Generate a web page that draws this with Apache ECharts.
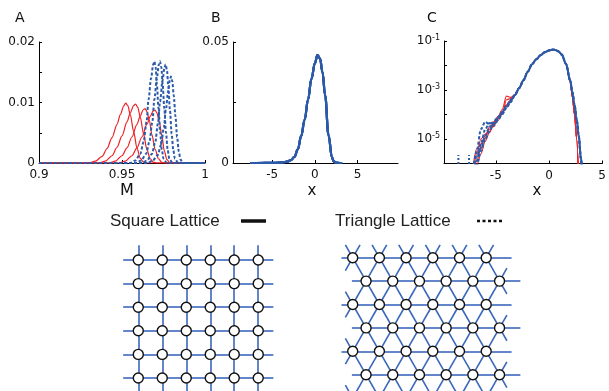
<!DOCTYPE html>
<html>
<head>
<meta charset="utf-8">
<script src="https://cdn.jsdelivr.net/npm/echarts@6.0.0/dist/echarts.min.js"></script>
<style>html,body{margin:0;padding:0;background:#fff}#c{width:609px;height:391px}</style>
</head>
<body>
<div id="c"></div>
<script>
// ---------- Panel A : distributions of M ----------
const A_RED_1 = [[0.9,0],[0.930,0],[0.934,0.0003],[0.938,0.0011],[0.941,0.0024],[0.944,0.0042],[0.947,0.0064],[0.949,0.0080],[0.951,0.0094],[0.9522,0.0099],[0.9535,0.0095],[0.955,0.0080],[0.957,0.0052],[0.959,0.0025],[0.961,0.0008],[0.963,0.0001],[0.965,0],[1,0]];
const A_RED_2 = [[0.9,0],[0.936,0],[0.940,0.0003],[0.944,0.0012],[0.947,0.0026],[0.950,0.0045],[0.953,0.0068],[0.955,0.0083],[0.957,0.0095],[0.9582,0.00975],[0.9595,0.0092],[0.961,0.0076],[0.963,0.0048],[0.965,0.0022],[0.967,0.0007],[0.969,0.0001],[0.971,0],[1,0]];
const A_RED_3 = [[0.9,0],[0.942,0],[0.946,0.0003],[0.950,0.0012],[0.953,0.0025],[0.956,0.0043],[0.959,0.0064],[0.961,0.0078],[0.9628,0.0088],[0.9639,0.0090],[0.965,0.0085],[0.9665,0.0070],[0.968,0.0047],[0.970,0.0022],[0.972,0.0007],[0.974,0.0001],[0.976,0],[1,0]];
const A_RED_4 = [[0.9,0],[0.948,0],[0.952,0.0003],[0.956,0.0012],[0.959,0.0025],[0.962,0.0043],[0.965,0.0064],[0.967,0.0077],[0.9688,0.0086],[0.9699,0.00876],[0.971,0.0083],[0.9725,0.0068],[0.974,0.0045],[0.9755,0.0020],[0.977,0.0006],[0.9785,0.0001],[0.980,0],[1,0]];
const A_BLUE_1 = [[0.9,0],[0.955,0],[0.958,0.0004],[0.961,0.0015],[0.963,0.0035],[0.9648,0.0068],[0.966,0.0105],[0.9675,0.0140],[0.9688,0.0163],[0.9695,0.0168],[0.9703,0.0158],[0.971,0.0130],[0.972,0.0090],[0.973,0.0050],[0.974,0.0022],[0.975,0.0007],[0.977,0],[1,0]];
const A_BLUE_2 = [[0.9,0],[0.9585,0],[0.9615,0.0004],[0.9645,0.0015],[0.9665,0.0035],[0.9683,0.0068],[0.9695,0.0105],[0.971,0.0140],[0.9722,0.0163],[0.9729,0.0168],[0.9737,0.0158],[0.9745,0.0130],[0.9755,0.0090],[0.9765,0.0050],[0.9775,0.0022],[0.9785,0.0007],[0.9805,0],[1,0]];
const A_BLUE_3 = [[0.9,0],[0.962,0],[0.965,0.0004],[0.968,0.0015],[0.970,0.0034],[0.9717,0.0066],[0.9729,0.0101],[0.9744,0.0136],[0.9756,0.0158],[0.9763,0.0163],[0.9771,0.0153],[0.9779,0.0126],[0.9789,0.0087],[0.9799,0.0048],[0.9809,0.0021],[0.9819,0.0007],[0.9839,0],[1,0]];
const A_BLUE_4 = [[0.9,0],[0.9655,0],[0.9685,0.0004],[0.9715,0.0013],[0.9735,0.0030],[0.9752,0.0058],[0.9764,0.0088],[0.9778,0.0119],[0.9789,0.0138],[0.9795,0.0143],[0.9803,0.0135],[0.9812,0.0111],[0.9822,0.0077],[0.9832,0.0043],[0.9842,0.0019],[0.9852,0.0006],[0.9865,0],[1,0]];

const A_X_TICKS = [0.9, 0.95, 1];
const A_X_LABELS = ['0.9', '0.95', '1'];
const A_Y_TICKS = [0, 0.005, 0.01, 0.015, 0.02];
const A_Y_LABEL_VALUES = [0, 0.01, 0.02];
const A_Y_LABELS = ['0', '0.01', '0.02'];

// ---------- Panels B and C : distributions of x ----------
const CX = [-7.6,-7.2,-6.8,-6.4,-6.0,-5.6,-5.2,-4.8,-4.4,-4.0,-3.6,-3.2,-2.8,-2.4,-2.0,-1.6,-1.2,-0.8,-0.4,0,0.3,0.6,0.9,1.2,1.6,2.0,2.2,2.4,2.6,2.8,3.0,3.2];
const C_RED_1 = [3.2e-8,4e-7,2.5e-6,1e-5,1.6e-5,2e-5,4.5e-5,8e-5,1.6e-4,5.6e-4,5e-4,6.3e-4,1.2e-3,2.5e-3,5.6e-3,1.12e-2,1.78e-2,2.62e-2,3.48e-2,4.12e-2,4.46e-2,4.32e-2,3.75e-2,2.8e-2,1.15e-2,2.2e-3,5e-4,1e-4,1e-5,1.3e-7,null,null];
const C_RED_2 = [1e-7,8e-7,4e-6,6.3e-6,1e-5,3.2e-5,3.2e-5,7e-5,1e-4,4e-4,4.5e-4,6.3e-4,1.2e-3,2.5e-3,5.6e-3,1.12e-2,1.78e-2,2.62e-2,3.48e-2,4.12e-2,4.46e-2,4.32e-2,3.75e-2,2.8e-2,1.15e-2,2.2e-3,5e-4,1e-4,1e-5,1.3e-7,null,null];
const C_RED_3 = [6.3e-8,2.5e-7,1.26e-6,4e-6,1.4e-5,2.5e-5,5e-5,5.6e-5,1.26e-4,2.5e-4,4e-4,6.3e-4,1.2e-3,2.5e-3,5.6e-3,1.12e-2,1.78e-2,2.62e-2,3.48e-2,4.12e-2,4.46e-2,4.32e-2,3.75e-2,2.8e-2,1.15e-2,2.2e-3,5e-4,1e-4,1e-5,1.3e-7,null,null];
const C_RED_4 = [3.2e-8,1.3e-7,8e-7,2.5e-6,8e-6,1.8e-5,4e-5,8e-5,1.1e-4,2.2e-4,3.5e-4,6.3e-4,1.2e-3,2.5e-3,5.6e-3,1.12e-2,1.78e-2,2.62e-2,3.48e-2,4.12e-2,4.46e-2,4.32e-2,3.75e-2,2.8e-2,1.15e-2,2.2e-3,5e-4,1e-4,1e-5,1.3e-7,null,null];
const C_BLUE_1 = [1e-7,6.3e-7,3.2e-6,2.5e-5,5e-5,4e-5,5e-5,8e-5,1.1e-4,1.8e-4,3.5e-4,6.3e-4,1.2e-3,2.5e-3,5.6e-3,1.12e-2,1.78e-2,2.62e-2,3.48e-2,4.12e-2,4.46e-2,4.32e-2,3.75e-2,2.8e-2,1.15e-2,2.4e-3,8e-4,2.5e-4,6e-5,1.3e-5,1.6e-6,1e-7];
const C_BLUE_2 = [5e-8,3.2e-7,1.26e-6,6.3e-6,2.5e-5,4.5e-5,3.5e-5,5.6e-5,1.26e-4,2e-4,3.2e-4,6.3e-4,1.2e-3,2.5e-3,5.6e-3,1.12e-2,1.78e-2,2.62e-2,3.48e-2,4.12e-2,4.46e-2,4.32e-2,3.75e-2,2.8e-2,1.15e-2,2.4e-3,8e-4,2.5e-4,6e-5,1.3e-5,1.6e-6,1e-7];
const C_BLUE_3 = [3.2e-8,1.6e-7,8e-7,3.2e-6,1e-5,2e-5,4.5e-5,6.3e-5,1e-4,2e-4,3.5e-4,6.3e-4,1.2e-3,2.5e-3,5.6e-3,1.12e-2,1.78e-2,2.62e-2,3.48e-2,4.12e-2,4.46e-2,4.32e-2,3.75e-2,2.8e-2,1.15e-2,2.4e-3,8e-4,2.5e-4,6e-5,1.3e-5,1.6e-6,1e-7];
const C_BLUE_4 = [6.3e-8,4e-7,2e-6,4.5e-6,1.26e-5,3.2e-5,4e-5,7e-5,1.26e-4,2.2e-4,4e-4,6.3e-4,1.2e-3,2.5e-3,5.6e-3,1.12e-2,1.78e-2,2.62e-2,3.48e-2,4.12e-2,4.46e-2,4.32e-2,3.75e-2,2.8e-2,1.15e-2,2.4e-3,8e-4,2.5e-4,6e-5,1.3e-5,1.6e-6,1e-7];
const C_SPIKE_X = [-8.52, -7.52];
const C_SPIKE_TOP = [2.2e-6, 2.2e-6];

const B_X_TICKS = [-5, 0, 5];
const B_X_LABELS = ['-5', '0', '5'];
const B_Y_TICKS = [0, 0.025, 0.05];
const B_Y_LABEL_VALUES = [0, 0.05];
const B_Y_LABELS = ['0', '0.05'];
const C_X_TICKS = [-5, 0, 5];
const C_X_LABELS = ['-5', '0', '5'];
const C_Y_LABEL_EXPONENTS = [-1, -3, -5];

// ---------- Lattices ----------
const SQUARE_COLS = 6, SQUARE_ROWS = 7;     // last row lies below the picture edge
const TRI_COLS = 6, TRI_ROWS = 7;

const RED = '#ec2226', BLUE = '#2b5aa9', LAT = '#3a67bb';
const FONT = 'DejaVu Sans';

function fmt(values, labels) {
  return v => { const i = values.findIndex(t => Math.abs(t - v) < 1e-9); return i >= 0 ? labels[i] : ''; };
}
function pairs(xs, ys) { return xs.map((x, i) => [x, ys[i]]); }

const axisBase = {
  axisLine: { onZero: false, lineStyle: { color: '#000', width: 1 } },
  splitLine: { show: false },
  axisTick: { inside: true, length: 3, lineStyle: { color: '#000' } },
  axisLabel: { color: '#111', fontFamily: FONT, fontSize: 12 }
};
function ax(extra) {
  const o = JSON.parse(JSON.stringify(axisBase));
  for (const k in extra) {
    if (typeof extra[k] === 'object' && !Array.isArray(extra[k]) && o[k]) Object.assign(o[k], extra[k]);
    else o[k] = extra[k];
  }
  return o;
}

// lattice geometry in lattice units (drawn through hidden value axes)
function squareLattice() {
  const nodes = [], edges = [];
  const has = (c, r) => c >= 0 && c < SQUARE_COLS && r >= 0 && r < SQUARE_ROWS;
  const dirs = [[1,0],[-1,0],[0,1],[0,-1]];
  const stub = 0.63;
  for (let r = 0; r < SQUARE_ROWS; r++) for (let c = 0; c < SQUARE_COLS; c++) {
    nodes.push([c, r]);
    for (const [dc, dr] of dirs) {
      if (has(c + dc, r + dr)) { if (dc > 0 || dr > 0) edges.push({ coords: [[c, r], [c + dc, r + dr]] }); }
      else edges.push({ coords: [[c, r], [c + dc * stub, r + dr * stub]] });
    }
  }
  return { nodes, edges };
}
function triLattice() {
  const nodes = [], edges = [];
  const px = (c, r) => c + (r % 2) * 0.5;
  const has = (x, r) => { if (r < 0 || r >= TRI_ROWS) return false; const c = x - (r % 2) * 0.5; return Math.abs(c - Math.round(c)) < 1e-6 && c >= -1e-6 && c <= TRI_COLS - 1 + 1e-6; };
  const dirs = [[1,0],[-1,0],[0.5,1],[-0.5,1],[0.5,-1],[-0.5,-1]];
  const stub = 0.55;
  for (let r = 0; r < TRI_ROWS; r++) for (let c = 0; c < TRI_COLS; c++) {
    const x = px(c, r);
    nodes.push([x, r]);
    for (const [dx, dr] of dirs) {
      // horizontal rows run a little further to the right than to the left
      const s = dr !== 0 ? stub : (dx > 0 ? (r % 2 ? 0.78 : 0.95) : (r % 2 ? 0.53 : 0.42));
      if (has(x + dx, r + dr)) { if (dr > 0 || (dr === 0 && dx > 0)) edges.push({ coords: [[x, r], [x + dx, r + dr]] }); }
      else edges.push({ coords: [[x, r], [x + dx * s, r + dr * s]] });
    }
  }
  return { nodes, edges };
}
const SQ = squareLattice(), TR = triLattice();

const redA = [A_RED_1, A_RED_2, A_RED_3, A_RED_4];
const blueA = [A_BLUE_1, A_BLUE_2, A_BLUE_3, A_BLUE_4];
const redC = [C_RED_1, C_RED_2, C_RED_3, C_RED_4];
const blueC = [C_BLUE_1, C_BLUE_2, C_BLUE_3, C_BLUE_4];

const series = [];
redA.forEach(d => series.push({ type: 'line', xAxisIndex: 0, yAxisIndex: 0, data: d, showSymbol: false, smooth: 0.3, smoothMonotone: 'x', lineStyle: { color: RED, width: 1.2 }, silent: true }));
blueA.forEach(d => series.push({ type: 'line', xAxisIndex: 0, yAxisIndex: 0, data: d, showSymbol: false, smooth: 0.3, smoothMonotone: 'x', lineStyle: { color: BLUE, width: 2, type: [3, 2] }, silent: true }));
redC.forEach(d => series.push({ type: 'line', xAxisIndex: 1, yAxisIndex: 1, data: pairs(CX, d), showSymbol: false, smooth: 0.4, smoothMonotone: 'x', lineStyle: { color: RED, width: 1.4 }, silent: true }));
blueC.forEach(d => series.push({ type: 'line', xAxisIndex: 1, yAxisIndex: 1, data: pairs(CX, d), showSymbol: false, smooth: 0.4, smoothMonotone: 'x', lineStyle: { color: BLUE, width: 2.2 }, silent: true }));
redC.forEach(d => series.push({ type: 'line', xAxisIndex: 2, yAxisIndex: 2, data: pairs(CX, d), showSymbol: false, smooth: 0.3, smoothMonotone: 'x', lineStyle: { color: RED, width: 1.1 }, silent: true }));
blueC.forEach(d => series.push({ type: 'line', xAxisIndex: 2, yAxisIndex: 2, data: pairs(CX, d), showSymbol: false, smooth: 0.3, smoothMonotone: 'x', lineStyle: { color: BLUE, width: 2, type: [3, 2] }, silent: true }));
C_SPIKE_X.forEach((x, i) => series.push({ type: 'line', xAxisIndex: 2, yAxisIndex: 2, data: [[x, 1e-7], [x, C_SPIKE_TOP[i]]], showSymbol: false, lineStyle: { color: BLUE, width: 2, type: [2, 2] }, silent: true }));

series.push({ type: 'lines', coordinateSystem: 'cartesian2d', xAxisIndex: 3, yAxisIndex: 3, data: SQ.edges, clip: false, lineStyle: { color: LAT, width: 1.6, opacity: 1 }, silent: true, z: 2 });
series.push({ type: 'scatter', xAxisIndex: 3, yAxisIndex: 3, data: SQ.nodes, clip: false, symbol: 'circle', symbolSize: 10, itemStyle: { color: '#fff', borderColor: '#111', borderWidth: 1.4, opacity: 1 }, silent: true, z: 3 });
series.push({ type: 'lines', coordinateSystem: 'cartesian2d', xAxisIndex: 4, yAxisIndex: 4, data: TR.edges, clip: false, lineStyle: { color: LAT, width: 1.6, opacity: 1 }, silent: true, z: 2 });
series.push({ type: 'scatter', xAxisIndex: 4, yAxisIndex: 4, data: TR.nodes, clip: false, symbol: 'circle', symbolSize: 10, itemStyle: { color: '#fff', borderColor: '#111', borderWidth: 1.4, opacity: 1 }, silent: true, z: 3 });

const hiddenAxis = { show: false, splitLine: { show: false } };

const option = {
  animation: false,
  backgroundColor: '#fff',
  grid: [
    { left: 39, top: 42, width: 166, height: 121 },
    { left: 233, top: 42, width: 165, height: 121 },
    { left: 444, top: 41, width: 165, height: 122.5 },
    { left: 114.3, top: 236.4, width: 188.8, height: 153.4 },
    { left: 326, top: 234.3, width: 200.25, height: 156 }
  ],
  xAxis: [
    ax({ type: 'value', gridIndex: 0, min: 0.9, max: 1, axisTick: { customValues: A_X_TICKS }, axisLabel: { customValues: A_X_TICKS, formatter: fmt(A_X_TICKS, A_X_LABELS), margin: 6 } }),
    ax({ type: 'value', gridIndex: 1, min: -9.6, max: 9.75, axisTick: { customValues: B_X_TICKS }, axisLabel: { customValues: B_X_TICKS, formatter: fmt(B_X_TICKS, B_X_LABELS), margin: 6 } }),
    ax({ type: 'value', gridIndex: 2, min: -9.87, max: 5, axisTick: { customValues: C_X_TICKS }, axisLabel: { customValues: C_X_TICKS, formatter: fmt(C_X_TICKS, C_X_LABELS), margin: 6 } }),
    Object.assign({ type: 'value', gridIndex: 3, min: -1, max: 6.87 }, hiddenAxis),
    Object.assign({ type: 'value', gridIndex: 4, min: -1, max: 6.5 }, hiddenAxis)
  ],
  yAxis: [
    ax({ type: 'value', gridIndex: 0, min: 0, max: 0.02, axisTick: { customValues: A_Y_TICKS }, axisLabel: { customValues: A_Y_LABEL_VALUES, formatter: fmt(A_Y_LABEL_VALUES, A_Y_LABELS), margin: 4 } }),
    ax({ type: 'value', gridIndex: 1, min: 0, max: 0.05, axisTick: { customValues: B_Y_TICKS }, axisLabel: { customValues: B_Y_LABEL_VALUES, formatter: fmt(B_Y_LABEL_VALUES, B_Y_LABELS), margin: 4 } }),
    ax({ type: 'log', logBase: 10, gridIndex: 2, min: 1e-6, max: 0.1,
         axisLabel: { margin: 4, formatter: v => { const e = Math.round(Math.log10(v)); return C_Y_LABEL_EXPONENTS.includes(e) ? '{b|10}{s|' + e + '}' : ''; },
           rich: { b: { fontFamily: FONT, fontSize: 12, color: '#111' }, s: { fontFamily: FONT, fontSize: 8, color: '#111', padding: [0, 0, 7, 0] } } } }),
    Object.assign({ type: 'value', gridIndex: 3, min: -1, max: 5.5, inverse: true }, hiddenAxis),
    Object.assign({ type: 'value', gridIndex: 4, min: -1, max: 5.667, inverse: true }, hiddenAxis)
  ],
  series: series,
  graphic: [
    { type: 'text', left: 15, top: 11, style: { text: 'A', font: '14px "DejaVu Sans"', fill: '#111' } },
    { type: 'text', left: 211, top: 11, style: { text: 'B', font: '14px "DejaVu Sans"', fill: '#111' } },
    { type: 'text', left: 427, top: 11, style: { text: 'C', font: '14px "DejaVu Sans"', fill: '#111' } },
    { type: 'text', x: 127, y: 191, style: { text: 'M', font: '16px "DejaVu Sans"', fill: '#111', align: 'center', verticalAlign: 'middle' } },
    { type: 'text', x: 312, y: 191, style: { text: 'x', font: '15px "DejaVu Sans"', fill: '#111', align: 'center', verticalAlign: 'middle' } },
    { type: 'text', x: 537, y: 191, style: { text: 'x', font: '15px "DejaVu Sans"', fill: '#111', align: 'center', verticalAlign: 'middle' } },
    { type: 'text', x: 110, y: 221, style: { text: 'Square Lattice', font: '17px "Liberation Sans"', fill: '#222', verticalAlign: 'middle' } },
    { type: 'line', shape: { x1: 241, y1: 221, x2: 266, y2: 221 }, style: { stroke: '#111', lineWidth: 3.5 } },
    { type: 'text', x: 335, y: 221, style: { text: 'Triangle Lattice', font: '17px "Liberation Sans"', fill: '#222', verticalAlign: 'middle' } },
    { type: 'line', shape: { x1: 477, y1: 221, x2: 503, y2: 221 }, style: { stroke: '#111', lineWidth: 2.5, lineDash: [3, 2.5] } }
  ]
};

const chart = echarts.init(document.getElementById('c'), null, { renderer: 'canvas' });
chart.setOption(option);
</script>
</body>
</html>
